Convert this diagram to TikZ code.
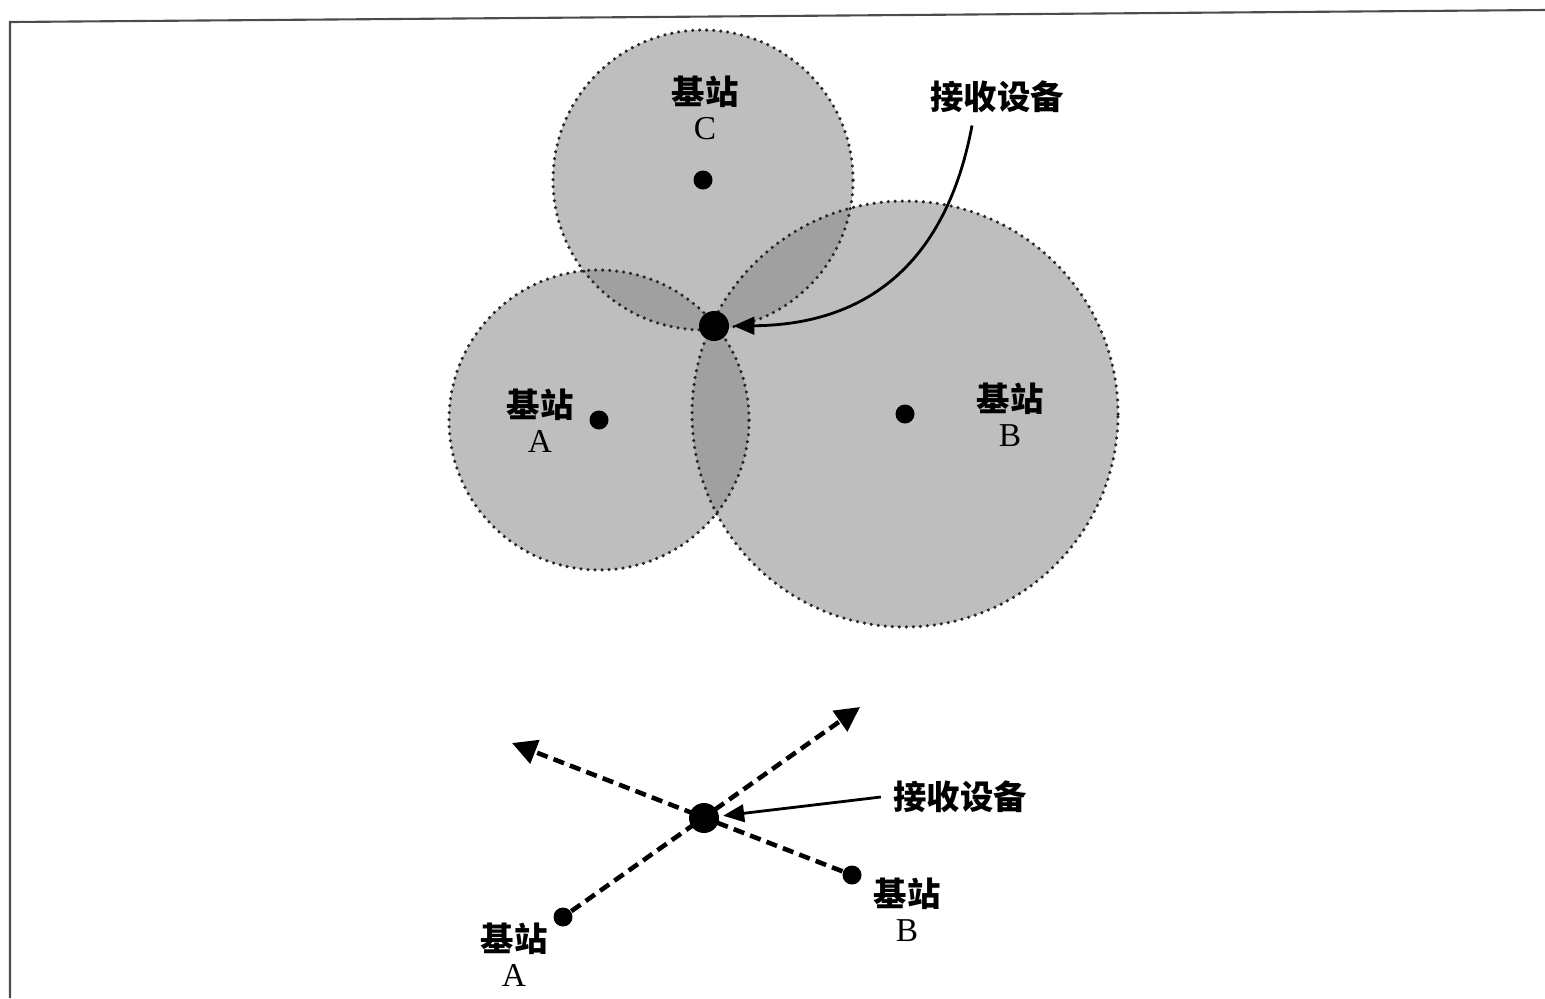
\documentclass[tikz,border=0pt]{standalone}
\usepackage{fontspec}
\setmainfont{Liberation Serif}
\newfontfamily\cjk{Noto Sans CJK SC}
\usetikzlibrary{arrows.meta,positioning}

\begin{document}
\begin{tikzpicture}
    [cell/.style={fill=black!47,fill opacity=0.54},
     rim/.style={line width=1.0pt,line cap=round,black!85,dash pattern=on 0pt off 2pt},
     base/.style={circle,fill=black,inner sep=0pt,minimum size=0.19cm},
     rxdot/.style={circle,fill=black,inner sep=0pt,minimum size=0.30cm},
     lbl/.style={align=center,font=\fontsize{9.5}{10}\selectfont},
     pointer/.style={line width=0.8pt,-{Triangle[length=6pt,width=5pt]},shorten >=1pt},
     ray/.style={line width=1.3pt,dash pattern=on 3.2pt off 1.8pt,-{Triangle[length=7pt,width=7pt]}}]
    \useasboundingbox (0,0) rectangle (15.45,-9.98);

    % frame
    \draw[line width=0.6pt,black!70] (0.10,-9.98) -- (0.10,-0.22) -- (15.45,-0.10);

    % coverage
    \coordinate (cA) at (5.99,-4.20);
    \coordinate (cB) at (9.05,-4.14);
    \coordinate (cC) at (7.03,-1.80);
    \fill[cell] (cA) circle (1.50);
    \fill[cell] (cB) circle (2.13);
    \fill[cell] (cC) circle (1.50);
    \draw[rim] (cA) circle (1.50);
    \draw[rim] (cB) circle (2.13);
    \draw[rim] (cC) circle (1.50);

    \node[base] (bsA) at (cA) {};
    \node[base] (bsB) at (cB) {};
    \node[base] (bsC) at (cC) {};
    \node[rxdot] (rx) at (7.14,-3.26) {};

    \node[lbl] (lblA) at (5.40,-4.21) {{\cjk\bfseries 基站}\\A};
    \node[lbl] (lblB) at (10.10,-4.15) {{\cjk\bfseries 基站}\\B};
    \node[lbl] (lblC) at (7.05,-1.08) {{\cjk\bfseries 基站}\\C};
    \node[lbl] (lblRx) at (9.97,-0.97) {\cjk\bfseries 接收设备};

    \draw[pointer] ([xshift=-0.25cm]lblRx.south) .. controls (9.45,-2.70) and (8.60,-3.25) .. (rx);

    % bearings
    \node[rxdot] (rx2) at (7.04,-8.18) {};
    \node[base] (bA2) at (5.63,-9.17) {};
    \node[base] (bB2) at (8.52,-8.75) {};
    \coordinate (farA) at (8.60,-7.07);
    \coordinate (farB) at (5.12,-7.43);
    \draw[ray] (bA2) -- (farA);
    \draw[ray] (bB2) -- (farB);

    \node[lbl] (lblA2) at (5.14,-9.55) {{\cjk\bfseries 基站}\\A};
    \node[lbl] (lblB2) at (9.07,-9.10) {{\cjk\bfseries 基站}\\B};
    \node[lbl] (lblRx2) at (9.60,-7.97) {\cjk\bfseries 接收设备};

    \draw[pointer] (lblRx2.west) -- (rx2);
\end{tikzpicture}
\end{document}
